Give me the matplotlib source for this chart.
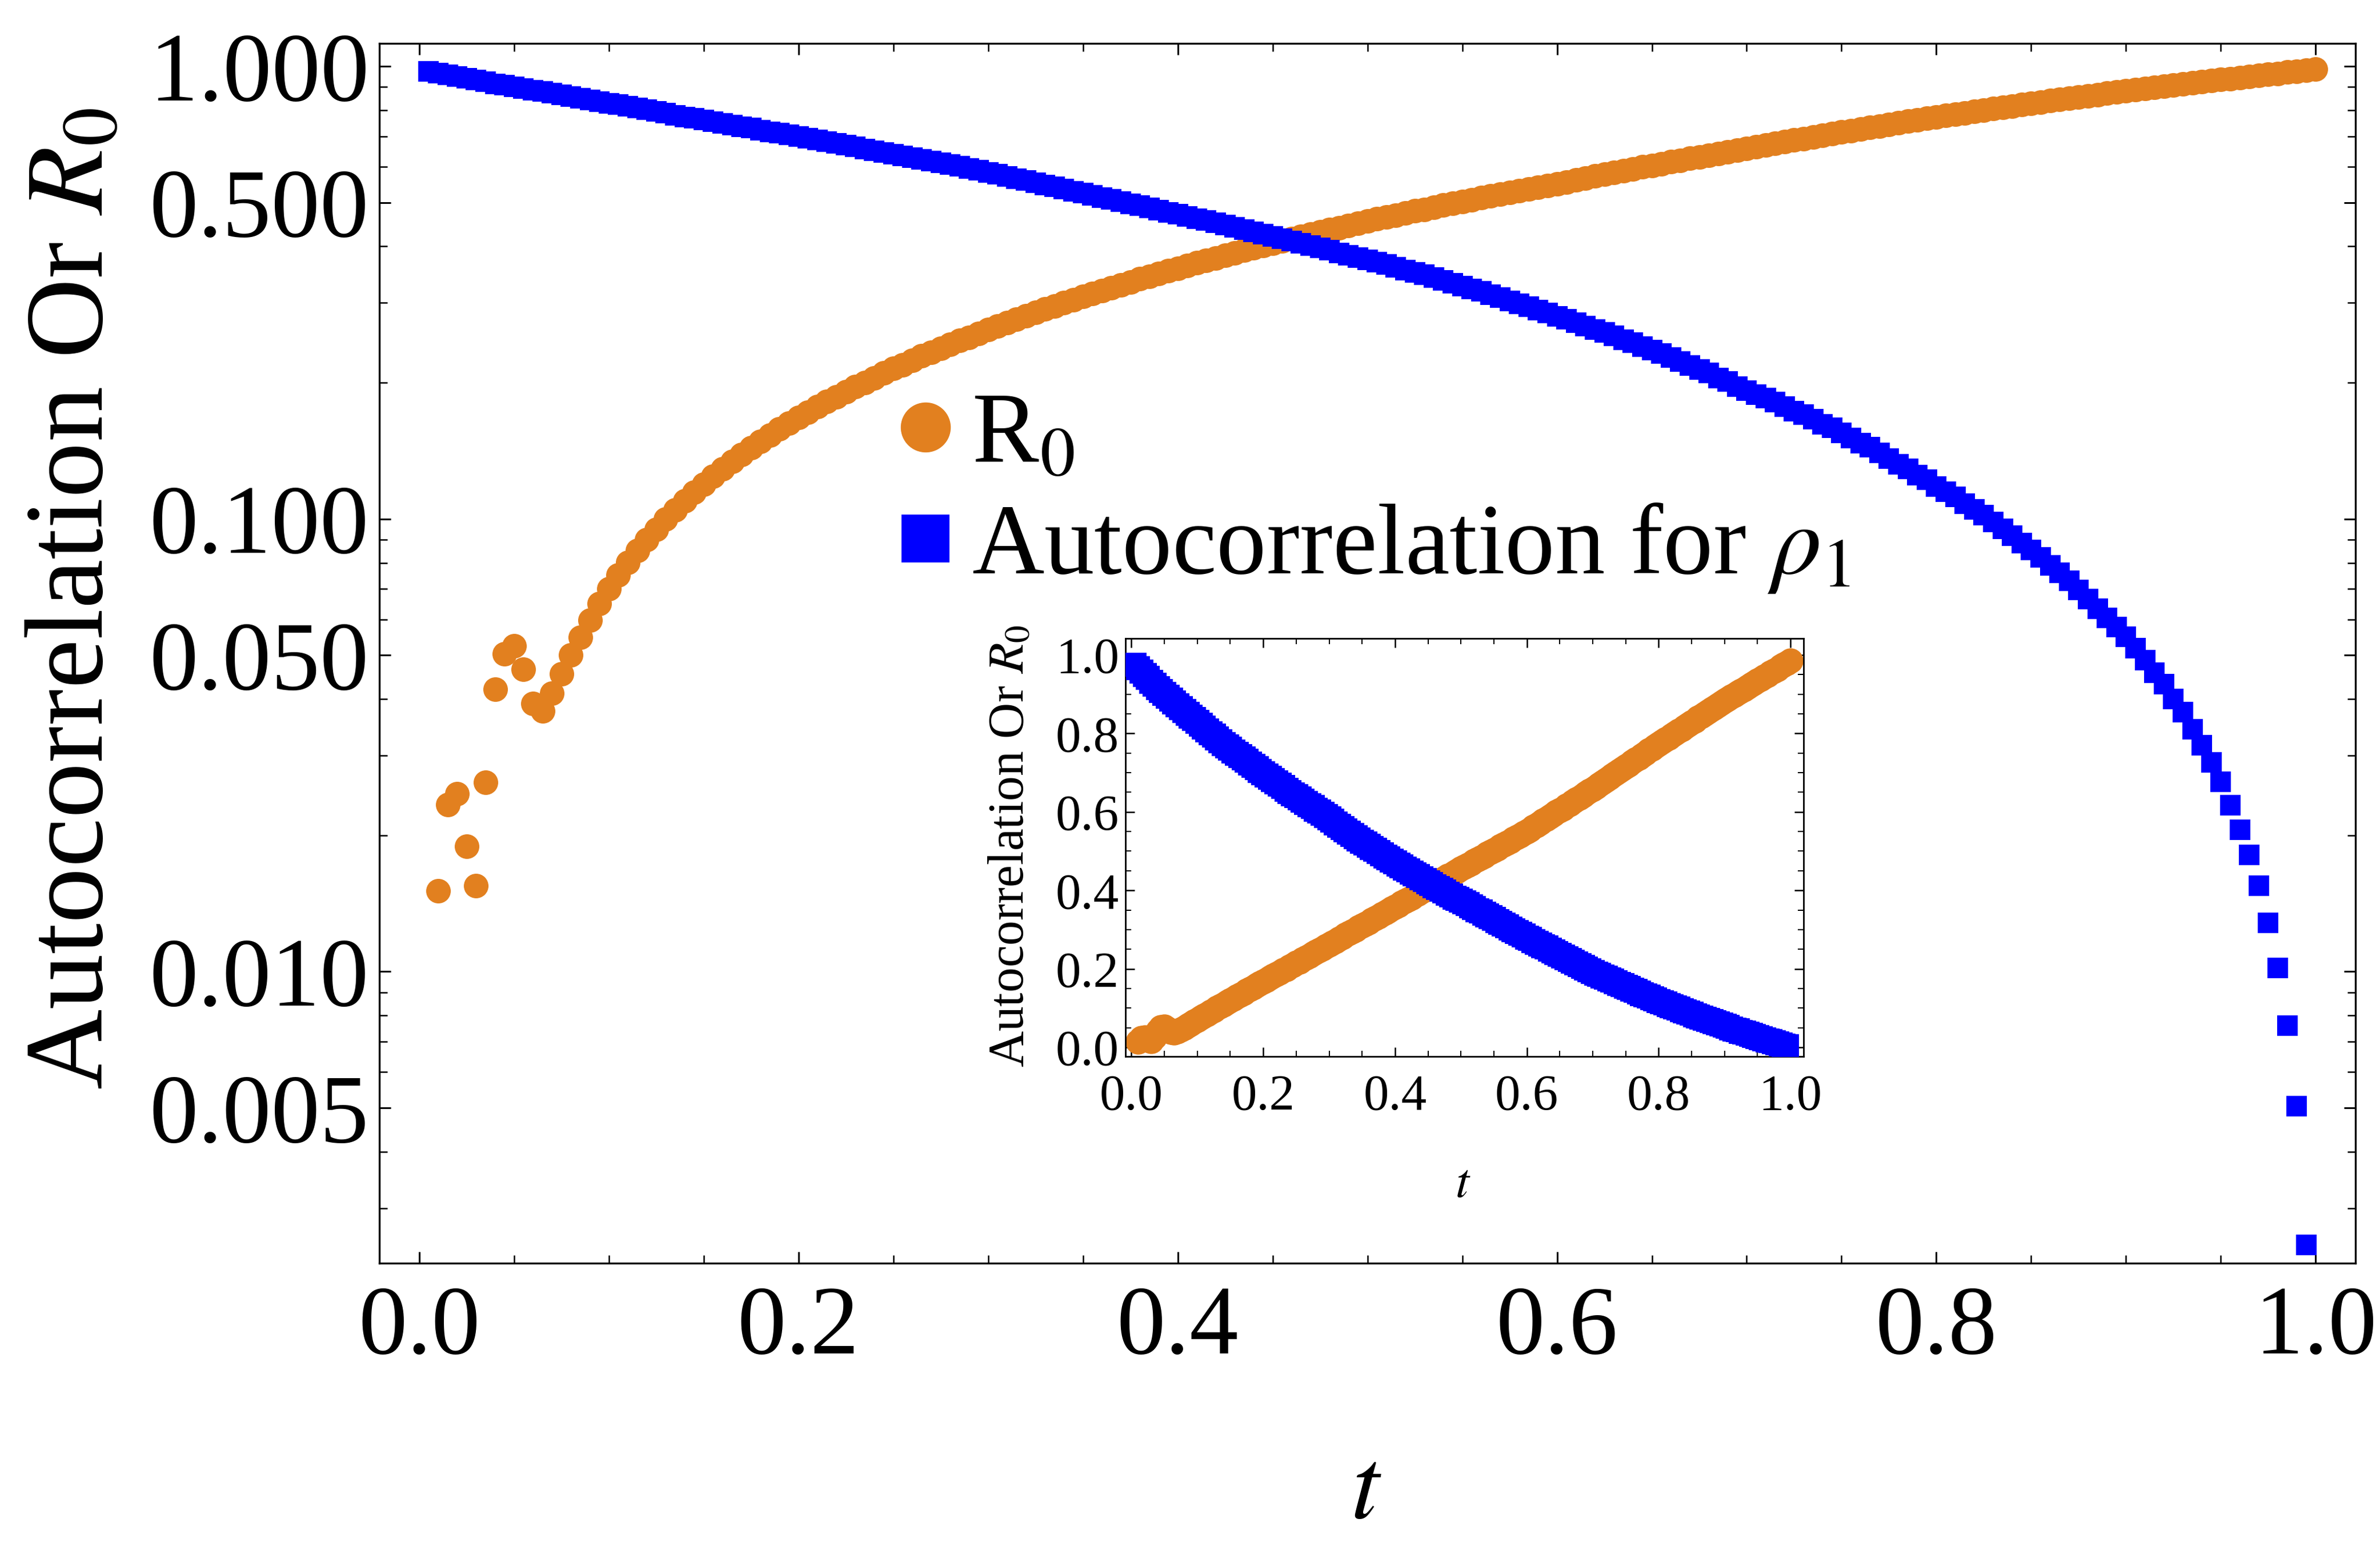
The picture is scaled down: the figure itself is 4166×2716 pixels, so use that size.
import matplotlib
matplotlib.use("Agg")
import matplotlib.pyplot as plt
from matplotlib.lines import Line2D
from matplotlib.ticker import MultipleLocator, LogLocator, NullFormatter, FormatStrFormatter

plt.rcParams['font.family'] = ['Liberation Serif', 'DejaVu Serif']
plt.rcParams['mathtext.fontset'] = 'stix'

# sample grid of t (step 0.005)
t_grid = [
    0.005, 0.010, 0.015, 0.020, 0.025, 0.030, 0.035, 0.040, 0.045, 0.050,
    0.055, 0.060, 0.065, 0.070, 0.075, 0.080, 0.085, 0.090, 0.095, 0.100,
    0.105, 0.110, 0.115, 0.120, 0.125, 0.130, 0.135, 0.140, 0.145, 0.150,
    0.155, 0.160, 0.165, 0.170, 0.175, 0.180, 0.185, 0.190, 0.195, 0.200,
    0.205, 0.210, 0.215, 0.220, 0.225, 0.230, 0.235, 0.240, 0.245, 0.250,
    0.255, 0.260, 0.265, 0.270, 0.275, 0.280, 0.285, 0.290, 0.295, 0.300,
    0.305, 0.310, 0.315, 0.320, 0.325, 0.330, 0.335, 0.340, 0.345, 0.350,
    0.355, 0.360, 0.365, 0.370, 0.375, 0.380, 0.385, 0.390, 0.395, 0.400,
    0.405, 0.410, 0.415, 0.420, 0.425, 0.430, 0.435, 0.440, 0.445, 0.450,
    0.455, 0.460, 0.465, 0.470, 0.475, 0.480, 0.485, 0.490, 0.495, 0.500,
    0.505, 0.510, 0.515, 0.520, 0.525, 0.530, 0.535, 0.540, 0.545, 0.550,
    0.555, 0.560, 0.565, 0.570, 0.575, 0.580, 0.585, 0.590, 0.595, 0.600,
    0.605, 0.610, 0.615, 0.620, 0.625, 0.630, 0.635, 0.640, 0.645, 0.650,
    0.655, 0.660, 0.665, 0.670, 0.675, 0.680, 0.685, 0.690, 0.695, 0.700,
    0.705, 0.710, 0.715, 0.720, 0.725, 0.730, 0.735, 0.740, 0.745, 0.750,
    0.755, 0.760, 0.765, 0.770, 0.775, 0.780, 0.785, 0.790, 0.795, 0.800,
    0.805, 0.810, 0.815, 0.820, 0.825, 0.830, 0.835, 0.840, 0.845, 0.850,
    0.855, 0.860, 0.865, 0.870, 0.875, 0.880, 0.885, 0.890, 0.895, 0.900,
    0.905, 0.910, 0.915, 0.920, 0.925, 0.930, 0.935, 0.940, 0.945, 0.950,
    0.955, 0.960, 0.965, 0.970, 0.975, 0.980, 0.985, 0.990, 0.995, 1.000,
]

# autocorrelation for rho_1 : t = 0.005 ... 0.995
t_auto = t_grid[:-1]
autocorr = [
    0.975, 0.966, 0.958, 0.949, 0.941, 0.932, 0.924, 0.915,
    0.908, 0.901, 0.893, 0.886, 0.879, 0.872, 0.865, 0.857, 0.850, 0.843,
    0.836, 0.829, 0.822, 0.815, 0.808, 0.801, 0.794, 0.787, 0.780, 0.773,
    0.767, 0.761, 0.754, 0.748, 0.742, 0.736, 0.730, 0.723, 0.717, 0.711,
    0.705, 0.699, 0.693, 0.687, 0.681, 0.675, 0.669, 0.663, 0.657, 0.651,
    0.645, 0.640, 0.634, 0.629, 0.623, 0.617, 0.612, 0.606, 0.601, 0.595,
    0.589, 0.583, 0.577, 0.571, 0.565, 0.559, 0.553, 0.547, 0.541, 0.535,
    0.530, 0.524, 0.519, 0.513, 0.508, 0.503, 0.497, 0.492, 0.486, 0.481,
    0.476, 0.471, 0.466, 0.461, 0.456, 0.451, 0.446, 0.441, 0.436, 0.431,
    0.426, 0.421, 0.416, 0.411, 0.406, 0.402, 0.397, 0.392, 0.387, 0.382,
    0.378, 0.374,
    0.369, 0.365, 0.360, 0.355, 0.350, 0.346, 0.341, 0.336, 0.332, 0.327,
    0.322, 0.318, 0.313, 0.308, 0.303, 0.299, 0.294, 0.289, 0.285, 0.280,
    0.276, 0.271, 0.267, 0.262, 0.258, 0.254, 0.249, 0.245, 0.240, 0.236,
    0.232, 0.227, 0.223, 0.218, 0.214, 0.210, 0.205, 0.201, 0.196, 0.192,
    0.188, 0.185, 0.181, 0.177, 0.173, 0.170, 0.166, 0.162, 0.159, 0.155,
    0.151, 0.147, 0.144,
    0.140, 0.136, 0.132, 0.129, 0.125, 0.122, 0.118,
    0.115, 0.112, 0.108, 0.105, 0.102, 0.0984, 0.0950, 0.0918, 0.0885, 0.0853,
    0.0822, 0.0789, 0.0760, 0.0730, 0.0697, 0.0666, 0.0634, 0.0605, 0.0577, 0.0549,
    0.0518, 0.0488, 0.0458, 0.0431, 0.0400, 0.0374, 0.0343, 0.0316, 0.0290, 0.0263,
    0.0233, 0.0206, 0.0181, 0.0155, 0.0128, 0.0102, 0.0076, 0.00504, 0.00249,
]

# R0 : t = 0.010 ... 1.000
t_r0 = t_grid[1:]
r0 = [
    0.0151, 0.0234, 0.0247, 0.0189, 0.0155, 0.0262, 0.0420, 0.0504, 0.0524, 0.0466,
    0.0391, 0.0376,
    0.0412, 0.0455, 0.0500, 0.0548, 0.0598, 0.0650, 0.0702,
    0.0752, 0.0802, 0.0851, 0.0900, 0.0949, 0.0998, 0.1047, 0.1096, 0.1145, 0.1194,
    0.1243, 0.1292, 0.1340, 0.1388, 0.1436, 0.1484, 0.1532, 0.1580, 0.1628, 0.1676,
    0.172, 0.177, 0.182, 0.186, 0.191, 0.196, 0.200, 0.205, 0.210, 0.215,
    0.219, 0.224, 0.229, 0.233, 0.238, 0.243, 0.248, 0.252, 0.257, 0.262,
    0.267, 0.271, 0.276, 0.281, 0.286, 0.291, 0.295, 0.300, 0.305, 0.310,
    0.315, 0.319, 0.324, 0.329, 0.334, 0.339, 0.343, 0.348, 0.353, 0.358,
    0.363, 0.368, 0.372, 0.377, 0.382, 0.387, 0.392, 0.397, 0.402, 0.406,
    0.411, 0.416, 0.421, 0.426, 0.431, 0.436, 0.440, 0.445, 0.450, 0.455,
    0.460, 0.464, 0.469, 0.474, 0.479, 0.483, 0.488, 0.493, 0.498, 0.502,
    0.507, 0.512, 0.517, 0.521, 0.526, 0.531, 0.536, 0.540, 0.545, 0.550,
    0.555, 0.561, 0.566, 0.572, 0.577, 0.582, 0.588, 0.593, 0.599, 0.604,
    0.609, 0.615, 0.620, 0.626, 0.631, 0.636, 0.642, 0.647, 0.653, 0.658,
    0.664, 0.669, 0.675, 0.681, 0.687, 0.692, 0.698, 0.704, 0.710, 0.716,
    0.721, 0.727, 0.733, 0.738, 0.744, 0.750, 0.756, 0.761, 0.767, 0.773,
    0.778, 0.784, 0.789, 0.795, 0.800, 0.806, 0.811, 0.817, 0.822, 0.828,
    0.833, 0.839, 0.844, 0.850, 0.855, 0.861, 0.866, 0.872, 0.877, 0.883,
    0.888, 0.893, 0.898, 0.903, 0.908, 0.913, 0.918, 0.924, 0.929, 0.934,
    0.939, 0.944, 0.949, 0.954, 0.959, 0.964, 0.970, 0.975, 0.980, 0.985,
]

main_yticks = [1.0, 0.5, 0.1, 0.05, 0.01, 0.005]
main_ylabels = ["1.000", "0.500", "0.100", "0.050", "0.010", "0.005"]

ORANGE = '#e2801f'
BLUE = '#0000ff'

fig = plt.figure(figsize=(41.66, 27.16), dpi=100)

# ---- main log plot ----
ax = fig.add_axes([0.1594, 0.1856, 0.8303, 0.7864])
ax.plot(t_r0, r0, ls='', marker='o', ms=31, mew=0, color=ORANGE, zorder=2)
ax.plot(t_auto, autocorr, ls='', marker='s', ms=26.5, mew=0, color=BLUE, zorder=3)
ax.set_yscale('log')
ax.set_xlim(-0.021, 1.021)
ax.set_ylim(0.00227, 1.123)

ax.set_yticks(main_yticks)
ax.set_yticklabels(main_ylabels)
ax.yaxis.set_minor_locator(LogLocator(base=10, subs=range(2, 10)))
ax.yaxis.set_minor_formatter(NullFormatter())
ax.xaxis.set_major_locator(MultipleLocator(0.2))
ax.xaxis.set_minor_locator(MultipleLocator(0.05))
ax.xaxis.set_major_formatter(FormatStrFormatter('%.1f'))

ax.tick_params(which='both', direction='in', top=True, right=True)
ax.tick_params(which='major', length=14.5, width=2.2, labelsize=123)
ax.tick_params(which='minor', length=10, width=1.8)
ax.tick_params(axis='y', pad=13)
ax.tick_params(axis='x', pad=28)
for s in ax.spines.values():
    s.set_linewidth(2.4)

fig.text(0.0318, 0.614, "Autocorrelation Or $R_0$", rotation=90,
         fontsize=140, ha='center', va='center')
fig.text(0.574, 0.037, "$t$", fontsize=128, ha='center', va='center')

handles = [
    Line2D([], [], ls='', marker='o', ms=63, mew=0, color=ORANGE),
    Line2D([], [], ls='', marker='s', ms=60, mew=0, color=BLUE),
]
ax.legend(handles, ["R$_0$", r"Autocorrelation for $\rho_1$"],
          loc='upper left', bbox_to_anchor=(0.378, 0.747),
          bbox_transform=fig.transFigure, frameon=False, fontsize=126,
          numpoints=1, handlelength=0.52, handletextpad=0.2,
          labelspacing=0.18, borderpad=0, borderaxespad=0)

# ---- inset, linear scale ----
axin = fig.add_axes([0.4729, 0.3189, 0.2849, 0.2695])
axin.plot(t_r0, r0, ls='', marker='o', ms=32, mew=0, color=ORANGE, zorder=2)
axin.plot(t_auto, autocorr, ls='', marker='s', ms=30, mew=0, color=BLUE, zorder=3)
axin.set_xlim(-0.009, 1.02)
axin.set_ylim(-0.023, 1.042)
for a in (axin.xaxis, axin.yaxis):
    a.set_major_locator(MultipleLocator(0.2))
    a.set_minor_locator(MultipleLocator(0.05))
    a.set_major_formatter(FormatStrFormatter('%.1f'))
axin.tick_params(which='both', direction='in', top=True, right=True)
axin.tick_params(which='major', length=11.5, width=1.8, labelsize=64)
axin.tick_params(which='minor', length=7, width=1.5)
axin.tick_params(axis='y', pad=8)
axin.tick_params(axis='x', pad=22)
for s in axin.spines.values():
    s.set_linewidth(2.0)

fig.text(0.4246, 0.4543, "Autocorrelation Or $R_0$", rotation=90,
         fontsize=63, ha='center', va='center')
fig.text(0.6147, 0.236, "$t$", fontsize=62, ha='center', va='center')

fig.savefig("out.png", dpi=100)
